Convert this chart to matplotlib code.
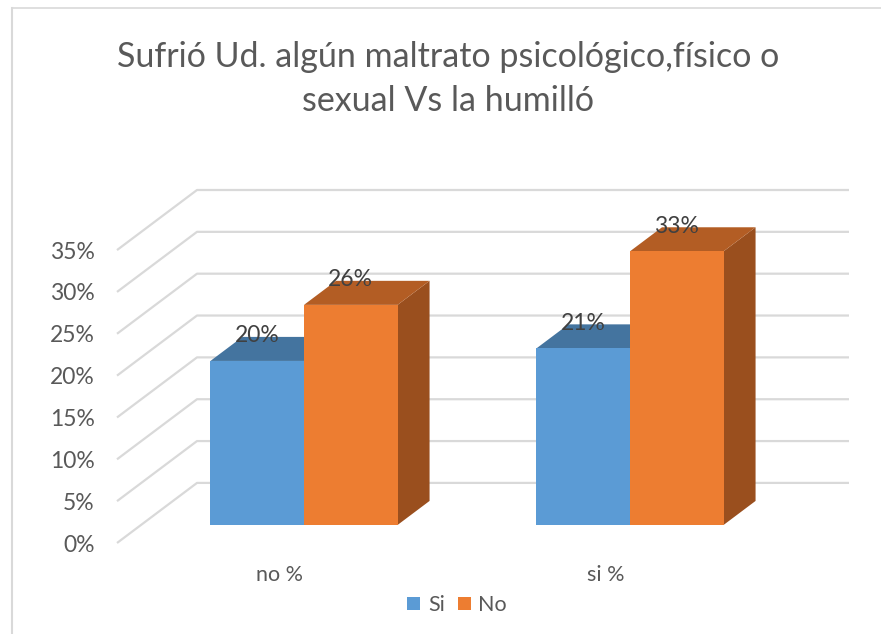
import matplotlib.pyplot as plt
from matplotlib.patches import Polygon, Patch
from matplotlib.lines import Line2D

plt.rcParams['font.family'] = ['Lato', 'DejaVu Sans']

title = "Sufrió Ud. algún maltrato psicológico,físico o\nsexual Vs la humilló"
categories = ["no %", "si %"]
series = ["Si", "No"]
si_values = [0.196, 0.211]
no_values = [0.263, 0.327]
yticks = [0.0, 0.05, 0.10, 0.15, 0.20, 0.25, 0.30, 0.35]

front = ["#5B9BD5", "#ED7D31"]
top = ["#44749F", "#B35D24"]
side = ["#3F6E99", "#9A4F1E"]
grid_col = "#D9D9D9"
text_col = "#595959"

# oblique projection of the depth axis, in data units
DX, DY = 0.2454, 0.0718
bar_w = 0.287
z0, z1 = 0.3, 0.7

fig = plt.figure(figsize=(8.81, 6.34), dpi=100)
W, H = 881, 634
ax = fig.add_axes([117 / W, (H - 543) / H, (849 - 117) / W, (543 - 190) / H])
ax.set_xlim(-0.5, 1.5 + DX)
ax.set_ylim(0, 0.35 + DY)
for s in ax.spines.values():
    s.set_visible(False)

# walls: side and back gridlines
for v in yticks:
    ax.plot([-0.5, -0.5 + DX, 1.5 + DX], [v, v + DY, v + DY],
            color=grid_col, lw=1.6, clip_on=False, zorder=1, solid_capstyle='butt')

ax.set_yticks(yticks, [f"{v:.0%}" for v in yticks])
ax.set_xticks(range(len(categories)), categories)
ax.tick_params(axis='y', length=0, pad=16, labelsize=16.5, labelcolor=text_col)
ax.tick_params(axis='x', length=0, pad=16, labelsize=15.5, labelcolor=text_col)


def box(ax, x0, h, j):
    ox, oy = z0 * DX, z0 * DY
    dx, dy = (z1 - z0) * DX, (z1 - z0) * DY
    x1 = x0 + bar_w
    sidef = Polygon([(x1 + ox, oy), (x1 + ox + dx, oy + dy),
                     (x1 + ox + dx, h + oy + dy), (x1 + ox, h + oy)],
                    closed=True, fc=side[j], ec='none', zorder=2, clip_on=False)
    topf = Polygon([(x0 + ox, h + oy), (x1 + ox, h + oy),
                    (x1 + ox + dx, h + oy + dy), (x0 + ox + dx, h + oy + dy)],
                   closed=True, fc=top[j], ec='none', zorder=2, clip_on=False)
    ax.add_patch(sidef)
    ax.add_patch(topf)
    ax.bar(x0 + ox, h, width=bar_w, bottom=oy, align='edge',
           color=front[j], zorder=2, clip_on=False)
    ax.annotate(f"{h:.0%}", (x0 + ox + bar_w / 2, h + oy), xytext=(0, 18),
                textcoords='offset points', ha='center', va='center',
                fontsize=16.5, color="#404040", zorder=5)


for i in range(len(categories)):
    for j, vals in enumerate([si_values, no_values]):
        box(ax, i - bar_w + j * bar_w, vals[i], j)

fig.text(448 / W, 1 - 79 / H, title, ha='center', va='center', fontsize=24.5,
         color=text_col, linespacing=1.45)

handles = [Patch(fc=front[0], ec='none'), Patch(fc=front[1], ec='none')]
fig.legend(handles, series, loc='center', bbox_to_anchor=(457 / W, 1 - 605 / H),
           ncol=2, frameon=False, fontsize=15.5, labelcolor=text_col,
           handlelength=0.6, handleheight=0.6, handletextpad=0.35, columnspacing=0.6)

# chart border (top and left edges only)
fig.add_artist(Line2D([12 / W, 1], [1 - 8 / H, 1 - 8 / H], color=grid_col, lw=1.2))
fig.add_artist(Line2D([12 / W, 12 / W], [0, 1 - 8 / H], color=grid_col, lw=1.5))

fig.savefig("out.png", dpi=100)
